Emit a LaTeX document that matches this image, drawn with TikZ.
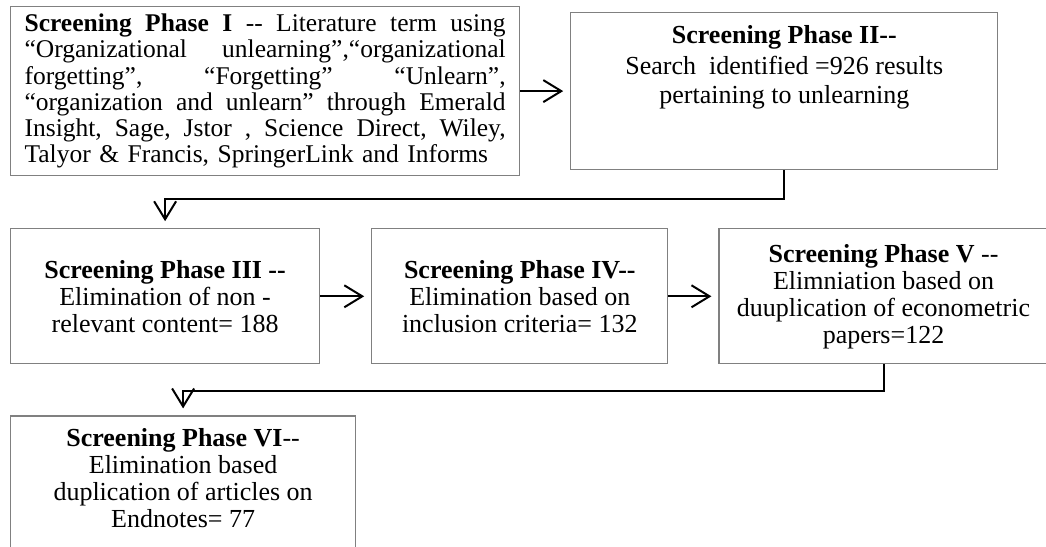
\documentclass[tikz,border=0pt]{standalone}
\usepackage{fontspec}
\setmainfont{Liberation Serif}
\usepackage{xcolor}
\definecolor{cFrame}{HTML}{808080}
\definecolor{cLine}{HTML}{000000}
\usepackage{tikz}
\usetikzlibrary{positioning,arrows.meta}
% one justified line of the first box, and a top-aligned block of text
\newcommand{\fullline}[1]{\leavevmode\hbox to 481pt{\frenchspacing\spaceskip=.25em plus 1fil\relax #1}}
\newcommand{\topblock}[3]{\parbox[c][#1][t]{#2}{\centering #3}}
\tikzset{
  phase-box/.style={draw=cFrame,line width=1.2pt,inner sep=0pt,align=center,
    font=\fontsize{26}{27}\selectfont},
  arrow/.style={-{Straight Barb[length=18pt,width=22pt]},line width=2pt,
    draw=cLine,shorten >=7pt},
}

\begin{document}
\begin{tikzpicture}[x=1pt,y=-1pt]
  \useasboundingbox (0,0) rectangle (1046,546);
  \clip (0,0) rectangle (1046,546);
  \node[phase-box,anchor=north west,text width=481pt,inner xsep=14pt,
    minimum height=169pt,align=left,font=\fontsize{25.5}{26.2}\selectfont]
    (p1) at (10,6) {%
    \fullline{\textbf{Screening Phase I} -{}- Literature term using}\\
    \fullline{“Organizational unlearning”,“organizational}\\
    \fullline{forgetting”, “Forgetting” “Unlearn”,}\\
    \fullline{“organization and unlearn” through Emerald}\\
    \fullline{Insight, Sage, Jstor , Science Direct, Wiley,}\\
    Talyor \& Francis, SpringerLink and Informs};
  \node[phase-box,right=50pt of p1,minimum width=427pt,inner ysep=13pt] (p2)
    {\topblock{131pt}{400pt}{\textbf{Screening Phase II-{}-}\\[4pt]
      Search~ identified =926 results\\[2pt]pertaining to unlearning}};
  \node[phase-box,below right=52pt and 0pt of p1.south west,
    minimum width=309pt,minimum height=135pt] (p3)
    {\textbf{Screening Phase III -{}-}\\Elimination of non -\\relevant content= 188};
  \node[phase-box,right=51pt of p3,minimum width=296pt,minimum height=135pt] (p4)
    {\textbf{Screening Phase IV-{}-}\\Elimination based on\\inclusion criteria= 132};
  \node[phase-box,right=50pt of p4,minimum width=329pt,minimum height=135pt] (p5)
    {\textbf{Screening Phase V} -{}-\\Elimniation based on\\duuplication of econometric\\papers=122};
  \node[phase-box,below right=51pt and 0pt of p3.south west,
    minimum width=345pt,inner ysep=12pt] (p6)
    {\topblock{150pt}{330pt}{\textbf{Screening Phase VI}-{}-\\Elimination based\\
      duplication of articles on\\Endnotes= 77}};
  \draw[arrow] (p1) -- (p2);
  \draw[arrow] (p2.south) -- ++(0,29) -| (p3.north);
  \draw[arrow] (p3) -- (p4);
  \draw[arrow] (p4) -- (p5);
  \draw[arrow] (p5.south) -- ++(0,27) -| (p6.north);
\end{tikzpicture}
\end{document}
